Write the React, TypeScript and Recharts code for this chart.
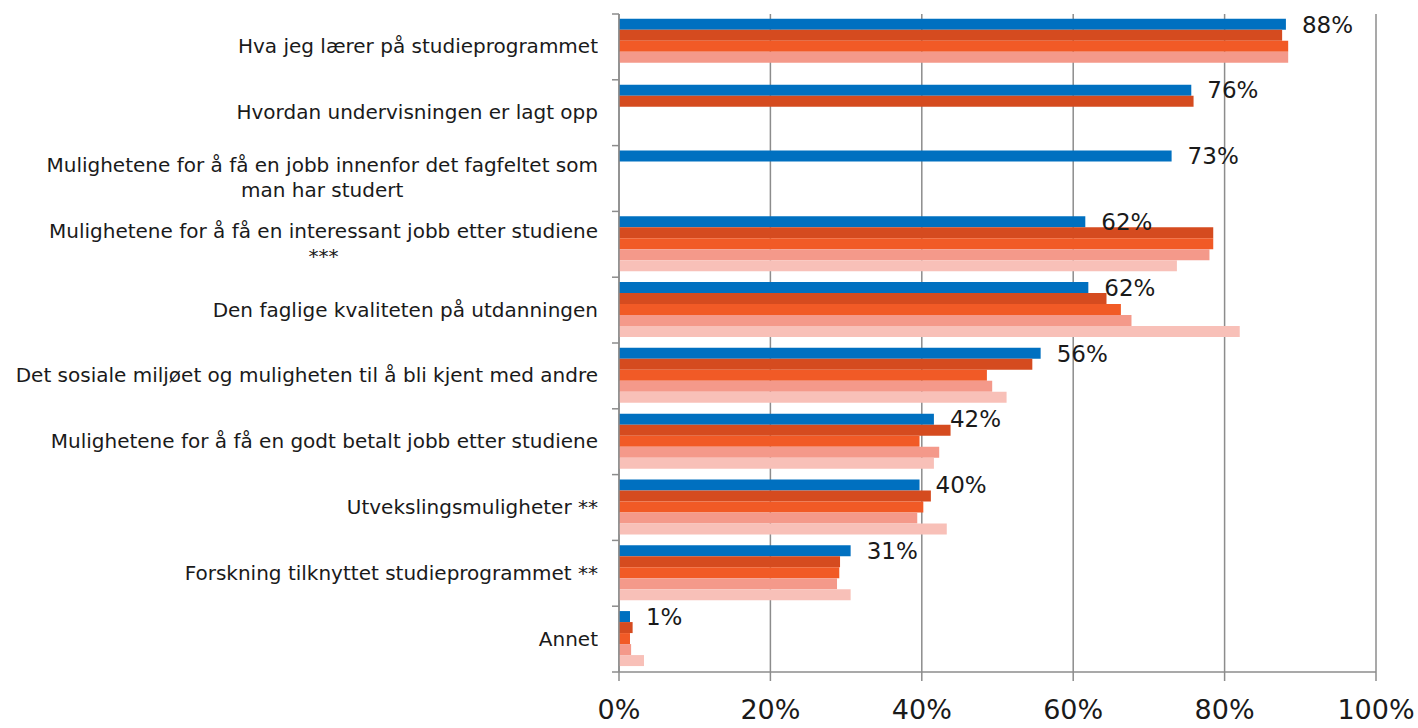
import { BarChart, Bar, XAxis, YAxis, CartesianGrid, LabelList } from 'recharts';

const categories = [
    'Hva jeg lærer på studieprogrammet',
    'Hvordan undervisningen er lagt opp',
    'Mulighetene for å få en jobb innenfor det fagfeltet som\nman har studert',
    'Mulighetene for å få en interessant jobb etter studiene\n***',
    'Den faglige kvaliteten på utdanningen',
    'Det sosiale miljøet og muligheten til å bli kjent med andre',
    'Mulighetene for å få en godt betalt jobb etter studiene',
    'Utvekslingsmuligheter **',
    'Forskning tilknyttet studieprogrammet **',
    'Annet',
];

const serie1 = [88.1, 75.6, 73.0, 61.6, 62.0, 55.7, 41.6, 39.7, 30.6, 1.45];
const serie2 = [87.6, 75.9, null, 78.5, 64.4, 54.6, 43.8, 41.2, 29.2, 1.8];
const serie3 = [88.4, null, null, 78.5, 66.3, 48.6, 39.7, 40.2, 29.1, 1.45];
const serie4 = [88.4, null, null, 78.0, 67.7, 49.3, 42.3, 39.4, 28.8, 1.6];
const serie5 = [null, null, null, 73.7, 82.0, 51.2, 41.6, 43.3, 30.6, 3.3];

const xTicks = [0, 20, 40, 60, 80, 100];

const FONT = '"DejaVu Sans", sans-serif';
const GREY = '#8c8c8c';
const TOP = 14;
const PLOT_H = 658;
const AXIS_W = 619;

const data = categories.map((name, i) => ({
    name,
    s1: serie1[i],
    s2: serie2[i],
    s3: serie3[i],
    s4: serie4[i],
    s5: serie5[i],
}));

function CategoryTick(props: any) {
    const { x, y, payload, index } = props;
    const band = PLOT_H / categories.length;
    const lines = String(payload.value).split('\n');
    return (
        <g>
            <line x1={x - 7} x2={x} y1={y - band / 2} y2={y - band / 2} stroke={GREY} strokeWidth={1.5} />
            {index === categories.length - 1 && (
                <line x1={x - 7} x2={x} y1={y + band / 2} y2={y + band / 2} stroke={GREY} strokeWidth={1.5} />
            )}
            <foreignObject x={0} y={y - band / 2} width={x - 21} height={band}>
                <div
                    style={{
                        display: 'flex',
                        justifyContent: 'flex-end',
                        alignItems: 'center',
                        height: '100%',
                    }}
                >
                    <div
                        style={{
                            textAlign: 'center',
                            fontFamily: FONT,
                            fontSize: 20,
                            lineHeight: '25px',
                            color: '#1a1a1a',
                            whiteSpace: 'nowrap',
                        }}
                    >
                        {lines.map((l, k) => (
                            <div key={k}>{l}</div>
                        ))}
                    </div>
                </div>
            </foreignObject>
        </g>
    );
}

export default function App() {
    return (
        <div style={{ position: 'absolute', left: 0, top: 0, background: '#fff' }}>
            <BarChart
                width={1418}
                height={728}
                data={data}
                layout="vertical"
                margin={{ top: TOP, right: 42, left: 0, bottom: 0 }}
                barCategoryGap="7.4%"
                barGap={0}
            >
                <CartesianGrid horizontal={false} stroke={GREY} strokeWidth={1.5} />
                <XAxis
                    type="number"
                    domain={[0, 100]}
                    ticks={xTicks}
                    tickFormatter={(v) => `${v}%`}
                    height={56}
                    tickSize={9}
                    tickMargin={19}
                    axisLine={{ stroke: GREY, strokeWidth: 1.5 }}
                    tickLine={{ stroke: GREY, strokeWidth: 1.5 }}
                    tick={{ fill: '#1a1a1a', fontSize: 27, fontFamily: FONT }}
                    interval={0}
                />
                <YAxis
                    type="category"
                    dataKey="name"
                    width={AXIS_W}
                    tickSize={0}
                    tickMargin={0}
                    tickLine={false}
                    axisLine={{ stroke: GREY, strokeWidth: 1.5 }}
                    tick={<CategoryTick />}
                    interval={0}
                />
                <Bar dataKey="s1" fill="#0070c0" isAnimationActive={false}>
                    <LabelList
                        dataKey="s1"
                        position="right"
                        offset={16}
                        formatter={(v: any) => `${Math.round(v)}%`}
                        style={{ fill: '#1a1a1a', fontSize: 23, fontFamily: FONT }}
                    />
                </Bar>
                <Bar dataKey="s2" fill="#d54b1f" isAnimationActive={false} />
                <Bar dataKey="s3" fill="#f15a26" isAnimationActive={false} />
                <Bar dataKey="s4" fill="#f4998a" isAnimationActive={false} />
                <Bar dataKey="s5" fill="#f8c0b8" isAnimationActive={false} />
            </BarChart>
        </div>
    );
}
